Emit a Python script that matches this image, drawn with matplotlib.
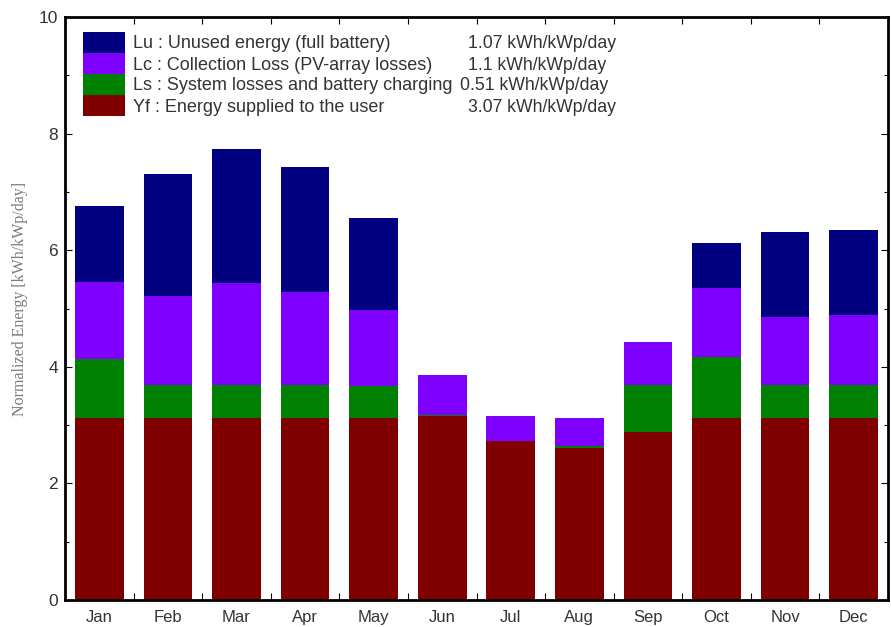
import matplotlib
matplotlib.use("Agg")
import matplotlib.pyplot as plt
from matplotlib.patches import Rectangle
import numpy as np

months = ["Jan", "Feb", "Mar", "Apr", "May", "Jun", "Jul", "Aug", "Sep", "Oct", "Nov", "Dec"]
yf = [3.13, 3.13, 3.13, 3.13, 3.13, 3.15, 2.73, 2.60, 2.89, 3.13, 3.13, 3.13]
ls = [1.00, 0.56, 0.56, 0.56, 0.54, 0.02, 0.00, 0.05, 0.80, 1.03, 0.56, 0.56]
lc = [1.33, 1.53, 1.74, 1.60, 1.30, 0.69, 0.43, 0.48, 0.74, 1.19, 1.17, 1.19]
lu = [1.29, 2.08, 2.30, 2.14, 1.59, 0.00, 0.00, 0.00, 0.00, 0.78, 1.46, 1.47]

legend_labels = ["Lu : Unused energy (full battery)",
                 "Lc : Collection Loss (PV-array losses)",
                 "Ls : System losses and battery charging",
                 "Yf : Energy supplied to the user"]
legend_values = ["1.07 kWh/kWp/day", "1.1 kWh/kWp/day", "0.51 kWh/kWp/day", "3.07 kWh/kWp/day"]
colors = ["#000080", "#8000FF", "#008000", "#800000"]
ylabel = "Normalized Energy [kWh/kWp/day]"

plt.rcParams['font.family'] = ['Liberation Sans', 'DejaVu Sans']

fig = plt.figure(figsize=(8.91, 6.27), dpi=100)
ax = fig.add_axes([65/891, 27/627, 823/891, 583/627])

x = np.arange(len(months)) + 0.5
w = 0.71
yf_a = np.array(yf); ls_a = np.array(ls); lc_a = np.array(lc); lu_a = np.array(lu)
ax.bar(x, yf_a, w, color=colors[3], linewidth=0)
ax.bar(x, ls_a, w, bottom=yf_a, color=colors[2], linewidth=0)
ax.bar(x, lc_a, w, bottom=yf_a + ls_a, color=colors[1], linewidth=0)
ax.bar(x, lu_a, w, bottom=yf_a + ls_a + lc_a, color=colors[0], linewidth=0)

ax.set_xlim(0, 12)
ax.set_ylim(0, 10)
ax.set_yticks([0, 2, 4, 6, 8, 10])
ax.set_yticks([1, 3, 5, 7, 9], minor=True)
ax.set_xticks(np.arange(1, 12))
ax.set_xticklabels([])
ax.set_xticks(x, minor=True)
ax.set_xticklabels(months, minor=True)
ax.tick_params(axis='x', which='minor', length=0, pad=7, labelsize=12, labelcolor='#333333')
ax.tick_params(axis='x', which='major', direction='in', top=True, bottom=True, length=5, width=0.8)
ax.tick_params(axis='y', which='major', direction='in', left=True, right=True, length=5, width=0.8,
               labelsize=12.5, pad=5, labelcolor='#333333')
ax.tick_params(axis='y', which='minor', direction='in', left=True, right=True, length=3, width=0.8)
for s in ax.spines.values():
    s.set_linewidth(2)

fig.text(20/891, 1 - 299/627, ylabel, rotation=90, va='center', ha='center',
         fontsize=11.5, color='#7a7a7a', family=['Liberation Serif', 'DejaVu Serif'])

# legend
row_h = 21.0
top = 32
for i in range(4):
    y0 = top + i * row_h
    fig.patches.append(Rectangle((83/891, 1 - (y0 + row_h)/627), 42/891, row_h/627,
                                 transform=fig.transFigure, color=colors[i], linewidth=0))
    yc = 1 - (y0 + row_h/2 + 1.5)/627
    fig.text(133/891, yc, legend_labels[i], va='center', ha='left', fontsize=13, color='#333333')
    vx = 460 if i == 2 else 468
    fig.text(vx/891, yc, legend_values[i], va='center', ha='left', fontsize=12.7, color='#333333')

fig.savefig("out.png", dpi=100)
